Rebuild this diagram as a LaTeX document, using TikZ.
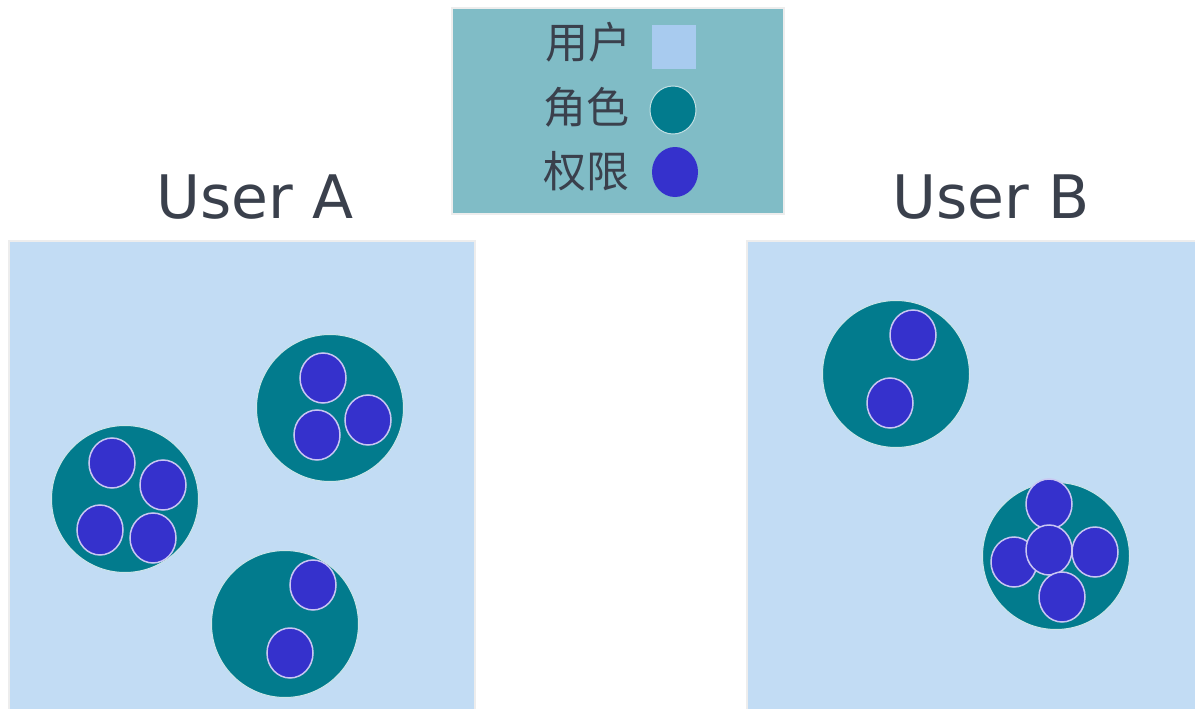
\documentclass[tikz,border=0pt]{standalone}
\usepackage{fontspec}
\setmainfont{DejaVu Sans}
\newfontfamily\cjk{Noto Sans CJK SC}
\usetikzlibrary{shapes.geometric}
\definecolor{userbg}{HTML}{C2DCF4}
\definecolor{legbg}{HTML}{80BCC6}
\definecolor{rolec}{HTML}{027B8D}
\definecolor{permc}{HTML}{3531CC}
\definecolor{txtc}{HTML}{3A404C}
\definecolor{usersq}{HTML}{A8CBEF}
\definecolor{permline}{HTML}{C9C6F2}
\tikzset{
  userbox/.style={draw=white!93!black, line width=1.5pt, fill=userbg},
  legendbox/.style={draw=white!93!black, line width=2pt, fill=legbg},
  role/.style={circle, fill=rolec, draw=white!80!rolec, line width=1pt, minimum size=147pt, inner sep=0pt},
  perm/.style={ellipse, fill=permc, draw=permline, line width=1.5pt, minimum width=46pt, minimum height=50pt, inner sep=0pt},
  lrole/.style={ellipse, fill=rolec, draw=white!75!rolec, line width=1pt, minimum width=46pt, minimum height=48pt, inner sep=0pt},
  lperm/.style={ellipse, fill=permc, minimum width=46pt, minimum height=50pt, inner sep=0pt},
  title/.style={font=\fontsize{60}{60}\selectfont, text=txtc, inner sep=0pt},
  legtxt/.style={font=\cjk\fontsize{43}{43}\selectfont, text=txtc, inner sep=0pt, anchor=east},
}
\begin{document}
\begin{tikzpicture}[x=1pt, y=-1pt]
\useasboundingbox (0,0) rectangle (1195,709);
\fill[white] (0,0) rectangle (1195,709);
% user boxes
\draw[userbox] (9,241) rectangle (475,712);
\draw[userbox] (747,241) rectangle (1198,712);
\node[title] (ua) at (255,197) {User A};
\node[title] (ub) at (991,197) {User B};
% legend
\draw[legendbox] (452,8) rectangle (784,214);
\node[legtxt] (l1) at (632,42) {用户};
\node[legtxt] (l2) at (630,107) {角色};
\node[legtxt] (l3) at (630,171) {权限};
\node[fill=usersq, minimum size=44pt, inner sep=0pt] (s1) at (674,47) {};
\node[lrole] (s2) at (673,110) {};
\node[lperm] (s3) at (675,172) {};
% user A roles
\node[role] (r1) at (125,499) {};
\node[perm] (p11) at (112,463) {};
\node[perm] (p12) at (163,485) {};
\node[perm] (p13) at (100,530) {};
\node[perm] (p14) at (153,538) {};
\node[role] (r2) at (330,408) {};
\node[perm] (p21) at (323,378) {};
\node[perm] (p22) at (368,420) {};
\node[perm] (p23) at (317,435) {};
\node[role] (r3) at (285,624) {};
\node[perm] (p31) at (313,585) {};
\node[perm] (p32) at (290,653) {};
% user B roles
\node[role] (r4) at (896,374) {};
\node[perm] (p41) at (913,335) {};
\node[perm] (p42) at (890,403) {};
\node[role] (r5) at (1056,556) {};
\node[perm] (p51) at (1049,504) {};
\node[perm] (p52) at (1014,562) {};
\node[perm] (p53) at (1095,552) {};
\node[perm] (p54) at (1049,550) {};
\node[perm] (p55) at (1062,597) {};
\end{tikzpicture}
\end{document}
